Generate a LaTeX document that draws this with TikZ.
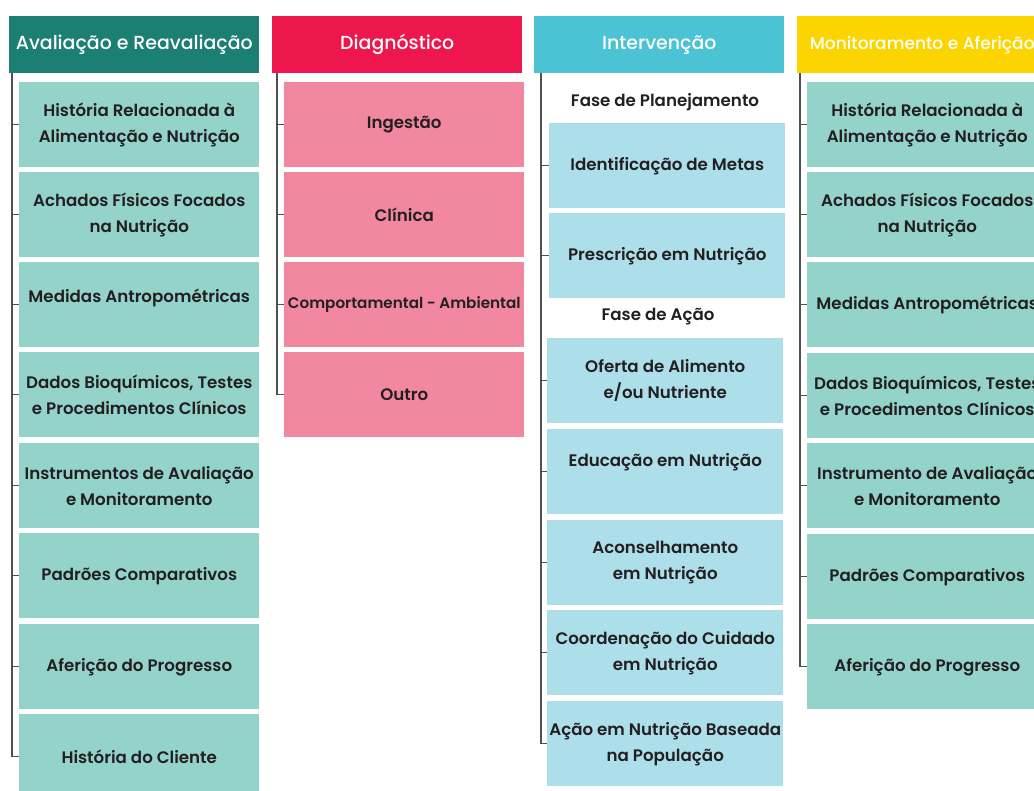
\documentclass[tikz,border=0pt]{standalone}
\usepackage{fontspec}
\setmainfont{Poppins}[UprightFont=* Medium, BoldFont=* SemiBold]
\definecolor{tealdark}{RGB}{27,127,115}
\definecolor{teallight}{RGB}{147,211,202}
\definecolor{crimson}{RGB}{237,23,77}
\definecolor{pinklight}{RGB}{242,136,160}
\definecolor{cyanmid}{RGB}{75,195,212}
\definecolor{cyanlight}{RGB}{173,223,234}
\definecolor{gold}{RGB}{252,213,0}
\definecolor{ink}{RGB}{35,31,32}
\definecolor{wire}{RGB}{80,80,80}
\tikzset{
  header/.style={rectangle, anchor=north west, inner sep=0pt, minimum width=187.5pt, minimum height=42.75pt, text=white, font=\fontsize{14.2}{17}\selectfont},
  item/.style={rectangle, anchor=north west, inner sep=0pt, minimum width=180pt, minimum height=63.75pt, align=center, text=ink, font=\bfseries\fontsize{12.5}{19.5}\selectfont},
  narrow/.style={minimum width=177pt},
  phase/.style={text=ink, inner sep=0pt, font=\bfseries\fontsize{12.5}{14}\selectfont},
  link/.style={draw=wire, line width=1pt},
  lift/.style={text depth=#1},
}
\begin{document}
\begin{tikzpicture}[x=0.75pt,y=0.75pt,yscale=-1,xscale=1]
        \useasboundingbox (0,0) rectangle (1034,791);
        \clip (0,0) rectangle (1034,791);
        % Header Node
        \node [header, fill=tealdark] (h1) at (9,16) {Avaliação e Reavaliação};
        % Text Node
        \node [item, fill=teallight] (a1) at (19,82) {História Relacionada à\\Alimentação e Nutrição};
        % Text Node
        \node [item, fill=teallight] (a2) at (19,172) {Achados Físicos Focados\\na Nutrição};
        % Text Node
        \node [item, fill=teallight, lift=13pt] (a3) at (19,262) {Medidas Antropométricas};
        % Text Node
        \node [item, fill=teallight] (a4) at (19,352) {Dados Bioquímicos, Testes\\e Procedimentos Clínicos};
        % Text Node
        \node [item, fill=teallight] (a5) at (19,443) {Instrumentos de Avaliação\\e Monitoramento};
        % Text Node
        \node [item, fill=teallight] (a6) at (19,533) {Padrões Comparativos};
        % Text Node
        \node [item, fill=teallight] (a7) at (19,624) {Aferição do Progresso};
        % Text Node
        \node [item, fill=teallight] (a8) at (19,714) {História do Cliente};
        % Header Node
        \node [header, fill=crimson] (h2) at (272,16) {Diagnóstico};
        % Text Node
        \node [item, fill=pinklight] (d1) at (284,82) {Ingestão};
        % Text Node
        \node [item, fill=pinklight] (d2) at (284,172) {Clínica};
        % Text Node
        \node [item, fill=pinklight, font=\bfseries\fontsize{11.4}{14}\selectfont] (d3) at (284,262) {Comportamental - Ambiental};
        % Text Node
        \node [item, fill=pinklight] (d4) at (284,352) {Outro};
        % Header Node
        \node [header, fill=cyanmid] (h3) at (534,16) {Intervenção};
        % Text Node
        \node [phase] (f1) at (665,102) {Fase de Planejamento};
        % Text Node
        \node [item, narrow, fill=cyanlight] (i1) at (549,123) {Identificação de Metas};
        % Text Node
        \node [item, narrow, fill=cyanlight] (i2) at (549,213) {Prescrição em Nutrição};
        % Text Node
        \node [phase] (f2) at (658,317) {Fase de Ação};
        % Text Node
        \node [item, narrow, fill=cyanlight] (i3) at (547,338) {Oferta de Alimento\\e/ou Nutriente};
        % Text Node
        \node [item, narrow, fill=cyanlight, lift=18pt] (i4) at (547,429) {Educação em Nutrição};
        % Text Node
        \node [item, narrow, fill=cyanlight] (i5) at (547,520) {Aconselhamento\\em Nutrição};
        % Text Node
        \node [item, narrow, fill=cyanlight] (i6) at (547,610) {Coordenação do Cuidado\\em Nutrição};
        % Text Node
        \node [item, narrow, fill=cyanlight] (i7) at (547,701) {Ação em Nutrição Baseada\\na População};
        % Header Node
        \node [header, fill=gold, font=\fontsize{12.8}{15}\selectfont] (h4) at (797,16) {Monitoramento e Aferição};
        % Text Node
        \node [item, fill=teallight] (m1) at (807,82) {História Relacionada à\\Alimentação e Nutrição};
        % Text Node
        \node [item, fill=teallight] (m2) at (807,172) {Achados Físicos Focados\\na Nutrição};
        % Text Node
        \node [item, fill=teallight] (m3) at (807,262) {Medidas Antropométricas};
        % Text Node
        \node [item, fill=teallight] (m4) at (807,353) {Dados Bioquímicos, Testes\\e Procedimentos Clínicos};
        % Text Node
        \node [item, fill=teallight] (m5) at (807,443) {Instrumento de Avaliação\\e Monitoramento};
        % Text Node
        \node [item, fill=teallight] (m6) at (807,534) {Padrões Comparativos};
        % Text Node
        \node [item, fill=teallight] (m7) at (807,624) {Aferição do Progresso};
        % Spine
        \coordinate (s1) at (12,73);
        \coordinate (s2) at (277,73);
        \coordinate (s3) at (541,73);
        \coordinate (s4) at (800,73);
        % Connection
        \draw [link] (s1) |- (a1.west) (s1) |- (a2.west) (s1) |- (a3.west) (s1) |- (a4.west)
                     (s1) |- (a5.west) (s1) |- (a6.west) (s1) |- (a7.west) (s1) |- (a8.west);
        % Connection
        \draw [link] (s2) |- (d1.west) (s2) |- (d2.west) (s2) |- (d3.west) (s2) |- (d4.west);
        % Connection
        \draw [link] (s3) |- (i1.west) (s3) |- (i2.west) (s3) |- (i3.west) (s3) |- (i4.west)
                     (s3) |- (i5.west) (s3) |- (i6.west) (s3) |- (i7.west);
        % Connection
        \draw [link] (s4) |- (m1.west) (s4) |- (m2.west) (s4) |- (m3.west) (s4) |- (m4.west)
                     (s4) |- (m5.west) (s4) |- (m6.west) (s4) |- (m7.west);
\end{tikzpicture}
\end{document}
